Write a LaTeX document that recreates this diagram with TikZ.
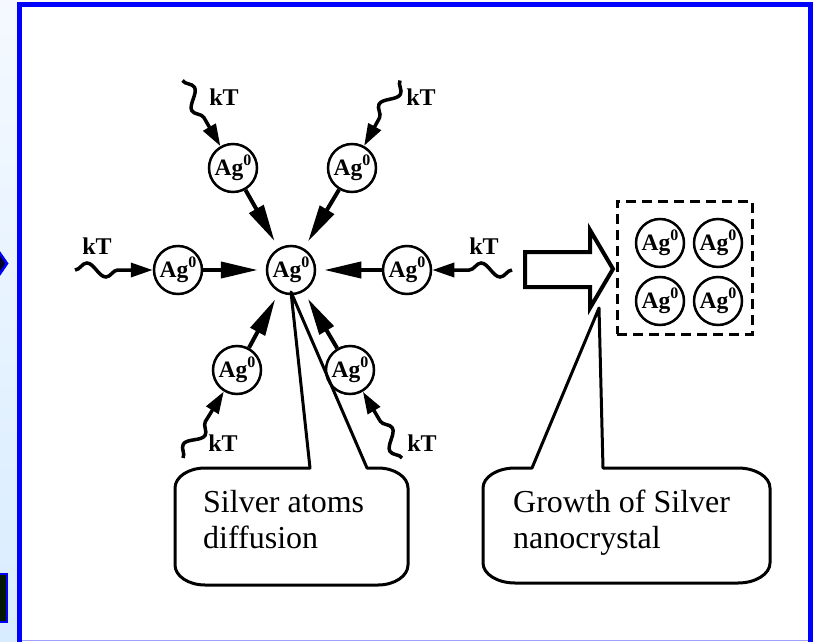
\documentclass[tikz,border=0pt]{standalone}
\usepackage{fontspec}
\setmainfont{Liberation Serif}
\usetikzlibrary{arrows.meta,decorations.pathmorphing}
\definecolor{frameblue}{RGB}{0,0,255}
\definecolor{striptop}{RGB}{245,249,255}
\definecolor{stripbot}{RGB}{216,236,255}
\definecolor{lav}{RGB}{160,160,255}
\newcommand{\agzero}{Ag\raisebox{10pt}{\fontsize{16}{16}\selectfont 0}}
\begin{document}
\begin{tikzpicture}[x=1pt,y=-1pt,
  atom/.style={circle,draw,line width=2.5pt,minimum size=48pt,inner sep=0pt,
    font=\fontsize{23.5}{23.5}\selectfont\bfseries},
  kt/.style={font=\fontsize{24}{24}\selectfont\bfseries,inner sep=0pt},
  bigarrow/.style={line width=4pt,-{Triangle[length=37pt,width=16pt]},shorten >=8pt},
  wavearrow/.style={line width=3.5pt,-{Triangle[length=22pt,width=14pt]},
    decorate,decoration={snake,segment length=38pt,amplitude=7pt,post length=30pt}},
  callout/.style={line width=3pt,line join=round},
  callouttext/.style={font=\fontsize{32}{36}\selectfont,align=left,inner sep=0pt,anchor=base west}
]
\useasboundingbox (0,0) rectangle (816,642);
% background
\fill[white] (0,0) rectangle (816,642);
\shade[top color=striptop,bottom color=stripbot] (0,0) rectangle (16.5,642);
\filldraw[draw=frameblue,fill={rgb,255:red,0;green,0;blue,40},line width=2.5pt]
  (-3,249) -- (7,263.5) -- (-3,278) -- cycle;
\filldraw[draw=frameblue,fill={rgb,255:red,0;green,25;blue,0},line width=2pt]
  (-3,574) rectangle (7,622);
\draw[lav,line width=1pt] (17,640.5) -- (813,640.5);
\draw[frameblue,line width=5pt] (19,642) -- (19,5) -- (810.5,5) -- (810.5,642);

% atoms
\node[atom] (C)  at (291,270) {\agzero};
\node[atom] (L)  at (178,270) {\agzero};
\node[atom] (R)  at (407,270) {\agzero};
\node[atom] (UL) at (233,168) {\agzero};
\node[atom] (UR) at (352,168) {\agzero};
\node[atom] (LL) at (237,370) {\agzero};
\node[atom] (LR) at (350,370) {\agzero};

% arrows to centre
\foreach \s in {L,R,UL,UR,LL,LR}
  \draw[bigarrow] (\s) -- (C);

% thermal waves
\coordinate (wL)  at (75,270);
\coordinate (wR)  at (512,270);
\coordinate (wUL) at (182.5,80.5);
\coordinate (wUR) at (400,80.5);
\coordinate (wLL) at (183,458);
\coordinate (wLR) at (402,458);
\draw[wavearrow] (wL) -- (L);
\draw[wavearrow] (wR) -- (R);
\draw[wavearrow] (wUL) -- (UL);
\draw[wavearrow] (wUR) -- (UR);
\draw[wavearrow] (wLL) -- (LL);
\draw[wavearrow] (wLR) -- (LR);

\node[kt] (kL)  at (97,246)  {kT};
\node[kt] (kR)  at (484,246) {kT};
\node[kt] (kUL) at (224,97)  {kT};
\node[kt] (kUR) at (421,97)  {kT};
\node[kt] (kLL) at (223,443) {kT};
\node[kt] (kLR) at (422,443) {kT};

% big hollow arrow
\draw[line width=4pt,line join=miter] (525,252) -- (590,252) -- (590,230) -- (613,269)
  -- (590,308) -- (590,287) -- (525,287) -- cycle;

% nanocrystal cluster
\node[draw,line width=3pt,dash pattern=on 10pt off 6pt,minimum width=135pt,minimum height=133pt,inner sep=0pt]
  (cluster) at (684.5,267.5) {};
\node[atom] (N1) at (660,243) {\agzero};
\node[atom] (N2) at (718,243) {\agzero};
\node[atom] (N3) at (660,301) {\agzero};
\node[atom] (N4) at (718,301) {\agzero};

% callouts
\coordinate (tip1) at (291,292);
\coordinate (tip2) at (599,308);
\draw[callout] (310,468) -- (tip1) -- (367,468) -- (378,468)
  .. controls (394.6,468) and (408,477) .. (408,488) -- (408,565)
  .. controls (408,576) and (394.6,585) .. (378,585) -- (205,585)
  .. controls (188.4,585) and (175,576) .. (175,565) -- (175,488)
  .. controls (175,477) and (188.4,468) .. (205,468) -- cycle;
\draw[callout] (532,468) -- (tip2) -- (603,468) -- (738,468)
  .. controls (755.7,468) and (770,477) .. (770,488) -- (770,563)
  .. controls (770,574) and (755.7,583) .. (738,583) -- (515,583)
  .. controls (497.3,583) and (483,574) .. (483,563) -- (483,488)
  .. controls (483,477) and (497.3,468) .. (515,468) -- cycle;
\node[callouttext] (t1) at (203,548) {Silver atoms\\diffusion};
\node[callouttext] (t2) at (513,548) {Growth of Silver\\nanocrystal};
\end{tikzpicture}
\end{document}
